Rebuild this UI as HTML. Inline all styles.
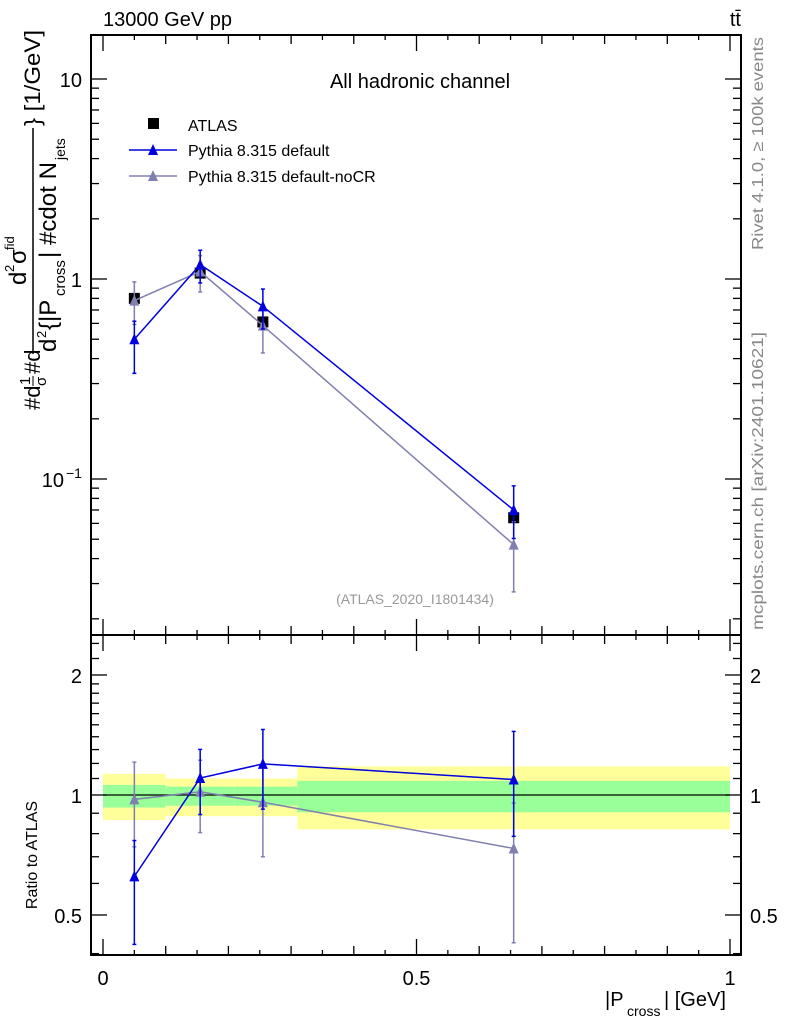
<!DOCTYPE html>
<html><head><meta charset="utf-8"><style>
body{margin:0;background:#fff}
svg{display:block;font-family:"Liberation Sans",sans-serif}
</style></head><body>
<svg id="c" width="786" height="1024" xmlns="http://www.w3.org/2000/svg"></svg>
<script>
const xCenters=[0.05,0.155,0.255,0.655];
const binEdges=[0,0.1,0.21,0.31,1.0];
const atlasVals=[0.80,1.07,0.61,0.064];
const defVals=[0.50,1.18,0.73,0.070];
const nocrVals=[0.78,1.09,0.585,0.047];
const defErrLo=[0.675,0.81,0.77,0.72];
const defErrHi=[1.23,1.18,1.22,1.32];
const nocrErrLo=[0.76,0.79,0.73,0.58];
const nocrErrHi=[1.24,1.2,1.25,1.3];
const bandYelLo=[0.865,0.885,0.885,0.82];
const bandYelHi=[1.13,1.10,1.10,1.18];
const bandGrnLo=[0.93,0.94,0.94,0.905];
const bandGrnHi=[1.06,1.05,1.05,1.085];
const xTickLabels=["0","0.5","1"];
const xTickVals=[0,0.5,1];

const S=document.getElementById('c');const NS="http://www.w3.org/2000/svg";
function el(t,a,p){const e=document.createElementNS(NS,t);for(const k in a)e.setAttribute(k,a[k]);(p||S).appendChild(e);return e;}
const L=91,R=741,T=35,M=635,B=955;
const X=v=>103+v*627;
const Y=v=>279-200*Math.log10(v);
const YR=v=>795-120*Math.log2(v);
const tx=(x,y,s,o)=>{const e=el('text',Object.assign({x:x,y:y,'font-size':20,fill:'#000'},o||{}));e.textContent=s;return e;};

for(let i=0;i<4;i++){
 let r=el('rect',{x:X(binEdges[i]),y:YR(bandYelHi[i]),width:X(binEdges[i+1])-X(binEdges[i]),height:YR(bandYelLo[i])-YR(bandYelHi[i]),fill:'#ffff99'});
 
 let g=el('rect',{x:X(binEdges[i]),y:YR(bandGrnHi[i]),width:X(binEdges[i+1])-X(binEdges[i]),height:YR(bandGrnLo[i])-YR(bandGrnHi[i]),fill:'#99ff99'});
 
}
el('line',{x1:X(0),x2:X(1),y1:YR(1),y2:YR(1),stroke:'#000','stroke-width':1.3});

el('rect',{x:L,y:T,width:R-L,height:M-T,fill:'none',stroke:'#000','stroke-width':2});
el('rect',{x:L,y:M,width:R-L,height:B-M,fill:'none',stroke:'#000','stroke-width':2});

for(let k=0;k<=20;k++){const v=k*0.05,x=X(v);const len=(k%10==0)?16:(k%2==0?9:5);
 [[T,1],[M,-1],[M,1],[B,-1]].forEach(([y,d])=>el('line',{x1:x,x2:x,y1:y,y2:y+d*len,stroke:'#000','stroke-width':1.3}));}
xTickVals.forEach((v,i)=>{const t=tx(X(v),985,xTickLabels[i],{'text-anchor':'middle'});});

for(let d=-2;d<=1;d++)for(let m=1;m<=9;m++){const v=m*Math.pow(10,d),y=Y(v);if(y<T||y>M)continue;const len=m==1?16:8;
 el('line',{x1:L,x2:L+len,y1:y,y2:y,stroke:'#000','stroke-width':1.3});el('line',{x1:R,x2:R-len,y1:y,y2:y,stroke:'#000','stroke-width':1.3});}
tx(82,87,"10",{'text-anchor':'end'});tx(82,287,"1",{'text-anchor':'end'});
tx(64,487,"10",{'text-anchor':'end'});tx(66,478,"−1",{'font-size':14});
const rt=[0.4,0.5,0.6,0.7,0.8,0.9,1,1.1,1.2,1.3,1.4,1.5,1.6,1.7,1.8,1.9,2,2.2,2.4];
rt.forEach(v=>{const y=YR(v);if(y<M||y>B)return;const len=(v==0.5||v==1||v==2)?16:8;
 el('line',{x1:L,x2:L+len,y1:y,y2:y,stroke:'#000','stroke-width':1.3});el('line',{x1:R,x2:R-len,y1:y,y2:y,stroke:'#000','stroke-width':1.3});});
[[2,"2"],[1,"1"],[0.5,"0.5"]].forEach(([v,s])=>{tx(82,YR(v)+8,s,{'text-anchor':'end'});tx(750,YR(v)+8,s);});

function series(vals,lo,hi,col,ratio,name){
 const fy=ratio?(i=>YR(vals[i]/atlasVals[i])):(i=>Y(vals[i]));
 const fyv=ratio?((i,f)=>YR(vals[i]*f/atlasVals[i])):((i,f)=>Y(vals[i]*f));
 let pts=vals.map((v,i)=>X(xCenters[i])+','+fy(i)).join(' ');
 const pl=el('polyline',{points:pts,fill:'none',stroke:col,'stroke-width':1.5});
 
 for(let i=0;i<vals.length;i++){const x=X(xCenters[i]);const y1=fyv(i,hi[i]),y2=fyv(i,lo[i]);
  el('line',{x1:x,x2:x,y1:Math.max(y1,T),y2:Math.min(y2,B),stroke:col,'stroke-width':1.5});
  el('line',{x1:x-2,x2:x+2,y1:y1,y2:y1,stroke:col,'stroke-width':1.5});el('line',{x1:x-2,x2:x+2,y1:y2,y2:y2,stroke:col,'stroke-width':1.5});
  const y=fy(i);const tri=el('polygon',{points:`${x-5},${y+5} ${x+5},${y+5} ${x},${y-6}`,fill:col});
  }
}
atlasVals.forEach((v,i)=>{const x=X(xCenters[i]),y=Y(v);const r=el('rect',{x:x-5.5,y:y-5.5,width:11,height:11,fill:'#000'});
 
 el('line',{x1:x,x2:x,y1:Y(v*1.04),y2:Y(v*0.96),stroke:'#000'});});
series(nocrVals,nocrErrLo,nocrErrHi,'#8080b0',false,'nocr');
series(defVals,defErrLo,defErrHi,'#0000e0',false,'default');
series(nocrVals,nocrErrLo,nocrErrHi,'#8080b0',true,'nocr-ratio');
series(defVals,defErrLo,defErrHi,'#0000e0',true,'default-ratio');

tx(103,26,"13000 GeV pp");
tx(741,26,"tt̄",{'text-anchor':'end'});
tx(420,88,"All hadronic channel",{'text-anchor':'middle'});
tx(415,604,"(ATLAS_2020_I1801434)",{'text-anchor':'middle','font-size':14,fill:'#999'});
el('rect',{x:148,y:118,width:11,height:11,fill:'#000'});tx(188,131,"ATLAS",{'font-size':16});
el('line',{x1:129,x2:177,y1:150,y2:150,stroke:'#0000e0','stroke-width':1.5});el('polygon',{points:'148,155 158,155 153,144',fill:'#0000e0'});
tx(188,156,"Pythia 8.315 default",{'font-size':16});
el('line',{x1:129,x2:177,y1:176,y2:176,stroke:'#8080b0','stroke-width':1.5});el('polygon',{points:'148,181 158,181 153,170',fill:'#8080b0'});
tx(188,182,"Pythia 8.315 default-noCR",{'font-size':16});
tx(0,0,"Rivet 4.1.0, ≥ 100k events",{'font-size':16,fill:'#888',textLength:213,lengthAdjust:'spacingAndGlyphs',transform:'translate(763,250) rotate(-90)'});
tx(0,0,"mcplots.cern.ch [arXiv:2401.10621]",{'font-size':16,fill:'#888',textLength:298,lengthAdjust:'spacingAndGlyphs',transform:'translate(763,630) rotate(-90)'});
tx(605,1006,"|P",{'font-size':20});tx(627,1016,"cross",{'font-size':14});tx(664,1006,"| [GeV]",{'font-size':20});
tx(0,0,"Ratio to ATLAS",{'font-size':16,transform:'translate(37,855) rotate(-90)','text-anchor':'middle'});
const g=el('g',{transform:'translate(40,410) rotate(-90)'});
const yt=(x,y,s,fs,tl)=>{const o={x:x,y:y,'font-size':fs,fill:'#000'};if(tl){o.textLength=tl;o.lengthAdjust='spacingAndGlyphs';}const e=el('text',o,g);e.textContent=s;};
yt(0,0,"#d",22);yt(25,-10,"1",15);el('line',{x1:24,x2:34,y1:-7,y2:-7,stroke:'#000'},g);yt(24,6,"σ",15);
yt(36,0,"#d",22);el('line',{x1:56,x2:282,y1:-7,y2:-7,stroke:'#000',"stroke-width":1.5},g);
yt(125,-14,"d",24);yt(138,-26,"2",13);yt(146,-14,"σ",24);yt(160,-26,"fid",13);
yt(58,16,"d",24);yt(72,6,"2",13);yt(80,16,"{|P",24);yt(114,25,"cross",15);yt(152,16,"| #cdot N",24,96);yt(250,25,"jets",14);
yt(284,0,"} [1/GeV]",22,96);
</script>
</body></html>
